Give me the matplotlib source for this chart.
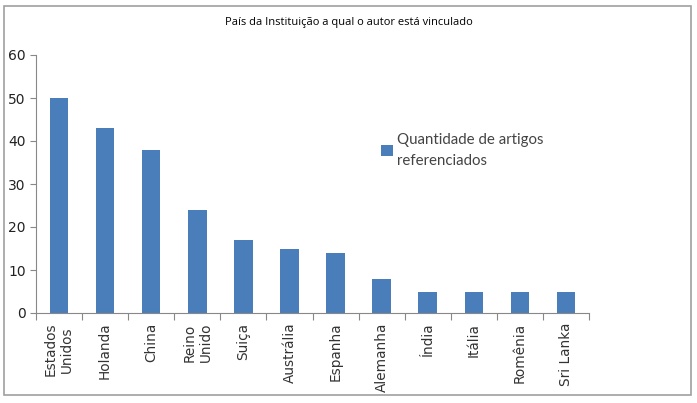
import matplotlib.pyplot as plt
from matplotlib.patches import Rectangle

paises = ["Estados\nUnidos", "Holanda", "China", "Reino\nUnido", "Suiça", "Austrália",
          "Espanha", "Alemanha", "Índia", "Itália", "Romênia", "Sri Lanka"]
quantidades = [50, 43, 38, 24, 17, 15, 14, 8, 5, 5, 5, 5]

cor = "#4a7ebb"

fig = plt.figure(figsize=(6.97, 4.03), dpi=100)
fig.patches.append(Rectangle((0.006, 0.02), 0.985, 0.965, transform=fig.transFigure,
                             fill=False, edgecolor="#a0a0a0", linewidth=1.2))

ax = fig.add_axes([36 / 697, 1 - 313 / 403, (589 - 36) / 697, (313 - 55) / 403])
x = range(len(paises))
ax.bar(x, quantidades, width=0.4, color=cor, label="Quantidade de artigos\nreferenciados")

ax.set_xlim(-0.5, len(paises) - 0.5)
ax.set_ylim(0, 60)
ax.set_yticks(range(0, 61, 10))
ax.set_xticks([i - 0.5 for i in range(len(paises) + 1)], minor=False)
ax.set_xticklabels([])
ax.set_xticks(list(x), minor=True)
ax.set_xticklabels(paises, minor=True, rotation=90, fontsize=9.8, family="DejaVu Sans",
                   color="#333333", linespacing=1.2)
ax.tick_params(axis="x", which="minor", length=0, pad=7)
ax.tick_params(axis="x", which="major", length=5, direction="out", color="#888888")
ax.tick_params(axis="y", length=4, color="#888888", labelsize=10, labelcolor="#222222")

for s in ["top", "right"]:
    ax.spines[s].set_visible(False)
for s in ["left", "bottom"]:
    ax.spines[s].set_color("#888888")

fig.text(0.5, 1 - 22 / 403, "País da Instituição a qual o autor está vinculado",
         ha="center", va="center", fontsize=8, family="Open Sans")

leg = ax.legend(loc="upper left", bbox_to_anchor=(0.6, 0.75), frameon=False,
                handlelength=0.75, handleheight=0.75, handletextpad=0.3,
                prop={"family": "Lato", "size": 10.8})
for t in leg.get_texts():
    t.set_color("#444444")
    t.set_linespacing(1.6)

fig.savefig("out.png", dpi=100)
